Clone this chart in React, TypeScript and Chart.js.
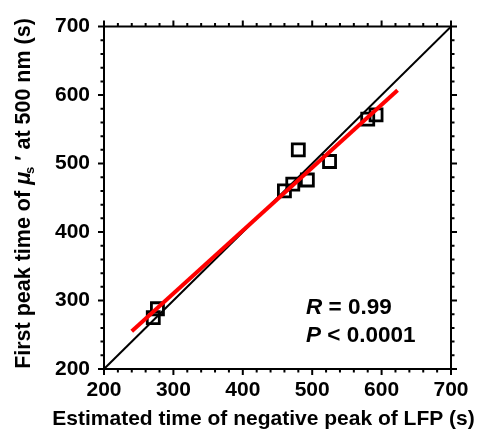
import React, { useEffect, useRef } from "react";
import { Chart, registerables } from "chart.js";

Chart.register(...registerables);

// Observations (estimated LFP peak time vs first peak time of mu_s')
const lfpPeakTimes = [271, 277, 460, 472, 480, 493, 525, 580, 592];
const muPeakTimes = [275, 288, 460, 470, 520, 476, 503, 565, 571];
// Identity line
const identityX = [200, 700];
const identityY = [200, 700];
// Regression line
const fitX = [240, 623];
const fitY = [255, 607];
// Axes
const axisMin = 200;
const axisMax = 700;
const majorStep = 100;
const minorStep = 20;
const xTitle = "Estimated time of negative peak of LFP (s)";
const statLetters = ["R", "P"];
const statValues = [" = 0.99", " < 0.0001"];

const FONT = '"Liberation Sans", Arial, Helvetica, sans-serif';

const framePlugin = {
  id: "framePlugin",
  afterDatasetsDraw(chart: any) {
    const ctx = chart.ctx as CanvasRenderingContext2D;
    const { left, right, top, bottom } = chart.chartArea;
    const xs = chart.scales.x;
    const ys = chart.scales.y;
    ctx.save();
    ctx.strokeStyle = "#000";
    ctx.lineWidth = 2;
    ctx.lineCap = "square";
    ctx.beginPath();
    ctx.rect(left, top, right - left, bottom - top);
    ctx.stroke();
    ctx.lineCap = "butt";
    ctx.lineWidth = 2;
    for (let v = axisMin; v <= axisMax; v += minorStep) {
      const major = v % majorStep === 0;
      const len = major ? 6 : 3.5;
      const px = xs.getPixelForValue(v);
      const py = ys.getPixelForValue(v);
      ctx.beginPath();
      ctx.moveTo(px, bottom);
      ctx.lineTo(px, bottom + len);
      ctx.moveTo(px, top);
      ctx.lineTo(px, top - len);
      ctx.moveTo(left, py);
      ctx.lineTo(left - len, py);
      ctx.moveTo(right, py);
      ctx.lineTo(right + len, py);
      ctx.stroke();
    }

    // X title
    ctx.fillStyle = "#000";
    ctx.font = `bold 21px ${FONT}`;
    ctx.textAlign = "center";
    ctx.textBaseline = "middle";
    ctx.fillText(xTitle, 263.5, 419);

    // Y title with mu_s'
    const parts: [string, string, number][] = [
      ["First peak time of ", `bold 21.5px ${FONT}`, 0],
      ["\u03BC", `italic bold 21.5px ${FONT}`, 0],
      ["s", `bold 13px ${FONT}`, 6],
      [" \u2032", `bold 21.5px ${FONT}`, 0],
      [" at 500 nm (s)", `bold 21.5px ${FONT}`, 0],
    ];
    let total = 0;
    const widths: number[] = [];
    for (const [t, f] of parts) {
      ctx.font = f;
      const w = ctx.measureText(t).width;
      widths.push(w);
      total += w;
    }
    ctx.save();
    ctx.translate(24, 192.5);
    ctx.rotate(-Math.PI / 2);
    ctx.textAlign = "left";
    ctx.textBaseline = "middle";
    let cx = -total / 2;
    parts.forEach(([t, f, dy], i) => {
      ctx.font = f;
      const off = t === "s" ? -2 : 0;
      ctx.fillText(t, cx + off, dy);
      cx += widths[i] + off;
    });
    ctx.restore();

    // Stats text
    ctx.textAlign = "left";
    ctx.textBaseline = "alphabetic";
    const baselines = [314, 342];
    statLetters.forEach((letter, i) => {
      ctx.font = `italic bold 22.5px ${FONT}`;
      ctx.fillText(letter, 306, baselines[i]);
      const w = ctx.measureText(letter).width;
      ctx.font = `bold 22.5px ${FONT}`;
      ctx.fillText(statValues[i], 306 + w, baselines[i]);
    });
    ctx.restore();
  },
};

export default function App() {
  const canvasRef = useRef<HTMLCanvasElement | null>(null);
  useEffect(() => {
    if (!canvasRef.current) return;
    const chart = new Chart(canvasRef.current, {
      type: "scatter",
      data: {
        datasets: [
          {
            type: "line",
            data: fitX.map((x, i) => ({ x, y: fitY[i] })),
            borderColor: "#ff0000",
            borderWidth: 4,
            pointRadius: 0,
            fill: false,
          },
          {
            type: "line",
            data: identityX.map((x, i) => ({ x, y: identityY[i] })),
            borderColor: "#000000",
            borderWidth: 2,
            pointRadius: 0,
            fill: false,
          },
          {
            type: "scatter",
            data: lfpPeakTimes.map((x, i) => ({ x, y: muPeakTimes[i] })),
            pointStyle: "rect",
            pointRadius: 8.5,
            borderColor: "#000000",
            borderWidth: 2.8,
            backgroundColor: "rgba(0,0,0,0)",
          },
        ],
      } as any,
      options: {
        animation: false,
        responsive: false,
        layout: { padding: { left: 0, right: 28, top: 22, bottom: 0 } },
        plugins: { legend: { display: false }, tooltip: { enabled: false } },
        scales: {
          x: {
            type: "linear",
            min: axisMin,
            max: axisMax,
            grid: { display: false, drawTicks: false },
            border: { display: false },
            ticks: {
              stepSize: majorStep,
              padding: 9,
              color: "#000",
              font: { family: FONT, size: 21, weight: "bold" },
              maxRotation: 0,
              autoSkip: false,
            },
            afterFit: (s: any) => {
              s.height = 67;
            },
          },
          y: {
            type: "linear",
            min: axisMin,
            max: axisMax,
            grid: { display: false, drawTicks: false },
            border: { display: false },
            ticks: {
              stepSize: majorStep,
              padding: 14,
              color: "#000",
              font: { family: FONT, size: 21, weight: "bold" },
              autoSkip: false,
            },
            afterFit: (s: any) => {
              s.width = 104;
            },
          },
        },
      } as any,
      plugins: [framePlugin],
    });
    return () => chart.destroy();
  }, []);
  return (
    <div style={{ position: "fixed", left: 0, top: 0, width: 479, height: 436, background: "#fff" }}>
      <canvas ref={canvasRef} width={479} height={436} style={{ display: "block" }} />
    </div>
  );
}
